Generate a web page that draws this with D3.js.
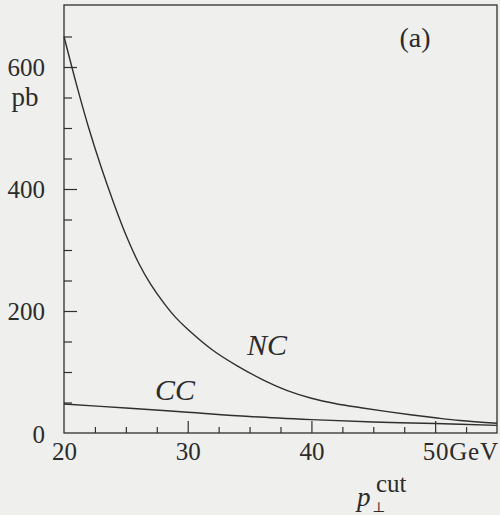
<!DOCTYPE html>
<html><head><meta charset="utf-8">
<script src="https://cdn.jsdelivr.net/npm/d3@7"></script>
<style>
html,body{margin:0;padding:0;background:#efefed;}
svg{display:block}
text{font-family:"Liberation Serif","DejaVu Serif",serif;fill:#2b2b2b}
</style></head><body>
<svg id="c" width="500" height="515"></svg>
<script>
// Data
const ncPT = [20, 21, 22, 23, 24, 25, 26, 27, 28, 29, 30, 32, 34, 36, 38, 40, 42, 44, 46, 48, 50, 52, 55];
const ncValues = [650, 572, 500, 436, 378, 325, 280, 244, 215, 190, 170, 136, 110, 88, 70, 57, 48, 41.5, 35.5, 30, 25, 20.5, 16];
const ccPT = [20, 25, 30, 35, 40, 45, 50, 55];
const ccValues = [47.5, 41, 34, 27, 22, 18, 15.5, 12.5];
const yLabelTicks = [0, 200, 400, 600];
const yMajorTicks = [200, 400, 600];
const yMinorTicks = [50, 100, 150, 250, 300, 350, 450, 500, 550, 650];
const xLabelTicks = [20, 30, 40, 50];
const xMajorTicks = [30, 40, 50];
const xMinorTicks = [22.5, 25, 27.5, 32.5, 35, 37.5, 42.5, 45, 47.5, 52.5];

const FONT = '"Liberation Serif","DejaVu Serif",serif';
const ink = "#2f2f2f";
const svg = d3.select("#c");
const L = 64, R = 497, T = 5, B = 433;
const x = d3.scaleLinear().domain([20, 55]).range([L, R]);
const y = d3.scaleLinear().domain([0, 700]).range([B, T + 1]);

// frame
svg.append("rect").attr("x", L).attr("y", T).attr("width", R - L).attr("height", B - T)
  .attr("fill", "none").attr("stroke", ink).attr("stroke-width", 1.3);

function styleAxis(g) {
  g.attr("font-family", FONT).attr("font-size", 25);
  g.select(".domain").remove();
  g.selectAll("line").attr("stroke", ink).attr("stroke-width", 1.2);
  g.selectAll("text").attr("fill", "#2b2b2b")
    .style("font-size", "25px").style("font-family", FONT);
}

// y axis ticks (inward)
svg.append("g").attr("transform", `translate(${L},0)`)
  .call(d3.axisLeft(y).tickValues(yMinorTicks).tickSize(-8).tickFormat(""))
  .call(styleAxis);
svg.append("g").attr("transform", `translate(${L},0)`)
  .call(d3.axisLeft(y).tickValues(yMajorTicks).tickSize(-13).tickFormat(""))
  .call(styleAxis);
const yl = svg.append("g").attr("transform", `translate(${L},0)`)
  .call(d3.axisLeft(y).tickValues(yLabelTicks).tickSize(0).tickPadding(19).tickFormat(d3.format("d")))
  .call(styleAxis);
yl.selectAll(".tick").filter(d => d === 0).select("text").attr("dy", "0.75em").attr("y", -9);

// x axis ticks (inward)
svg.append("g").attr("transform", `translate(0,${B})`)
  .call(d3.axisBottom(x).tickValues(xMinorTicks).tickSize(-6).tickFormat(""))
  .call(styleAxis);
svg.append("g").attr("transform", `translate(0,${B})`)
  .call(d3.axisBottom(x).tickValues(xMajorTicks).tickSize(-12).tickFormat(""))
  .call(styleAxis);
const xl = svg.append("g").attr("transform", `translate(0,${B})`)
  .call(d3.axisBottom(x).tickValues(xLabelTicks).tickSize(0).tickPadding(9)
    .tickFormat(d => d === 50 ? "50GeV" : String(d)))
  .call(styleAxis);
xl.selectAll(".tick").filter(d => d === 50).select("text")
  .attr("text-anchor", "start").attr("x", -13).style("letter-spacing", "0.8px");

// curves
const line = d3.line().x(d => x(d[0])).y(d => y(d[1])).curve(d3.curveCatmullRom.alpha(0.5));
svg.append("path").datum(ncPT.map((p, i) => [p, ncValues[i]]))
  .attr("d", line).attr("fill", "none").attr("stroke", ink).attr("stroke-width", 1.4);
svg.append("path").datum(ccPT.map((p, i) => [p, ccValues[i]]))
  .attr("d", line).attr("fill", "none").attr("stroke", ink).attr("stroke-width", 1.4);

// labels
function lab(xp, yp, txt, size, italic, anchor) {
  return svg.append("text").attr("x", xp).attr("y", yp)
    .attr("text-anchor", anchor || "start")
    .style("font-family", FONT).style("font-size", size + "px")
    .style("font-style", italic ? "italic" : "normal").text(txt);
}
lab(25, 106, "pb", 27, false, "middle");
lab(415, 47, "(a)", 28, false, "middle");
lab(247, 355, "NC", 30, true);
lab(155, 400, "CC", 30, true);
// axis title p⊥^cut
lab(357, 506, "p", 27, true);
lab(372, 512, "⊥", 14, false);
lab(376, 492, "cut", 25, false);
</script>
</body></html>
